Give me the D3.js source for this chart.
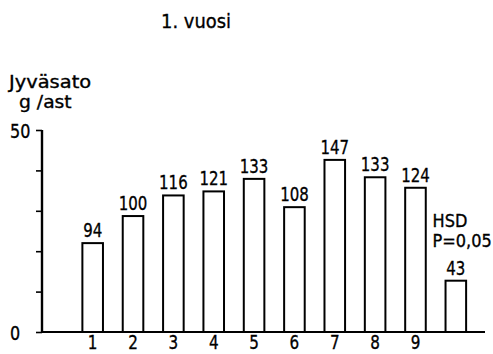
<!DOCTYPE html>
<html><head><meta charset="utf-8">
<script src="https://cdn.jsdelivr.net/npm/d3@7"></script>
<style>
body{margin:0;background:#fff;}
text{font-family:"DejaVu Sans",sans-serif;fill:#000;stroke:#000;stroke-width:0.35px;}
</style></head><body>
<svg id="c" width="493" height="354"></svg>
<script>
const categories = ["1","2","3","4","5","6","7","8","9","HSD"];
const values = [22.0, 28.7, 33.8, 34.8, 37.9, 30.9, 42.6, 38.3, 35.7, 12.7];
const relLabels = ["94","100","116","121","133","108","147","133","124","43"];
const xTickLabels = ["1","2","3","4","5","6","7","8","9",""];
const yTicks = [0,10,20,30,40,50];
const yLabelTicks = [0,50];

const svg = d3.select("#c");
const y = d3.scaleLinear().domain([0,50]).range([332,130]);
const x = d3.scaleBand().domain(categories).range([72.5,476]).paddingInner(0.49).paddingOuter(0.245);

function label(px, py, txt, size, sx, anchor){
  return svg.append("text")
    .attr("transform", `translate(${px},${py}) scale(${sx},1)`)
    .attr("font-size", size)
    .attr("text-anchor", anchor || "start")
    .text(txt);
}

// baseline
svg.append("line").attr("x1",41).attr("x2",485).attr("y1",y(0)).attr("y2",y(0))
  .attr("stroke","#000").attr("stroke-width",2);

// y axis
const yAxis = d3.axisLeft(y).tickValues(yTicks).tickSize(6).tickSizeOuter(0).tickFormat("");
const gy = svg.append("g").attr("transform","translate(42,0)").call(yAxis);
gy.select(".domain").attr("stroke-width",2.4).attr("d","M0,"+y(50)+"V"+y(0));
gy.selectAll(".tick line").attr("stroke-width",1.6);
yLabelTicks.forEach(v => label(10, y(v)+7.5, String(v), 20, 0.8, "start"));

// x axis labels
const xAxis = d3.axisBottom(x).tickSize(0).tickFormat((d,i)=>xTickLabels[i]);
const gx = svg.append("g").attr("transform","translate(0,"+y(0)+")").call(xAxis);
gx.select(".domain").remove();
gx.selectAll(".tick text").attr("font-size",19).attr("y",17).attr("dy",0)
  .attr("transform","scale(0.8,1)").attr("fill","#000");

// bars
svg.selectAll("rect.bar").data(values).join("rect").attr("class","bar")
  .attr("x",(d,i)=>x(categories[i]))
  .attr("y",d=>y(d))
  .attr("width",x.bandwidth())
  .attr("height",d=>y(0)-y(d))
  .attr("fill","#fff").attr("stroke","#000").attr("stroke-width",2);

// value labels
values.forEach((d,i) => label(x(categories[i])+x.bandwidth()/2, y(d)-6, relLabels[i], 20, 0.75, "middle"));

// HSD labels
const hx = x("HSD");
label(hx-13, 226.5, "HSD", 17, 0.95, "start");
label(hx-13, 247, "P=0,05", 17, 0.95, "start");

// title and y label
label(161, 28, "1. vuosi", 19.5, 0.92, "start");
label(9, 87.5, "Jyväsato", 18, 1.08, "start");
label(19, 108, "g /ast", 18, 1.04, "start");
</script></body></html>
